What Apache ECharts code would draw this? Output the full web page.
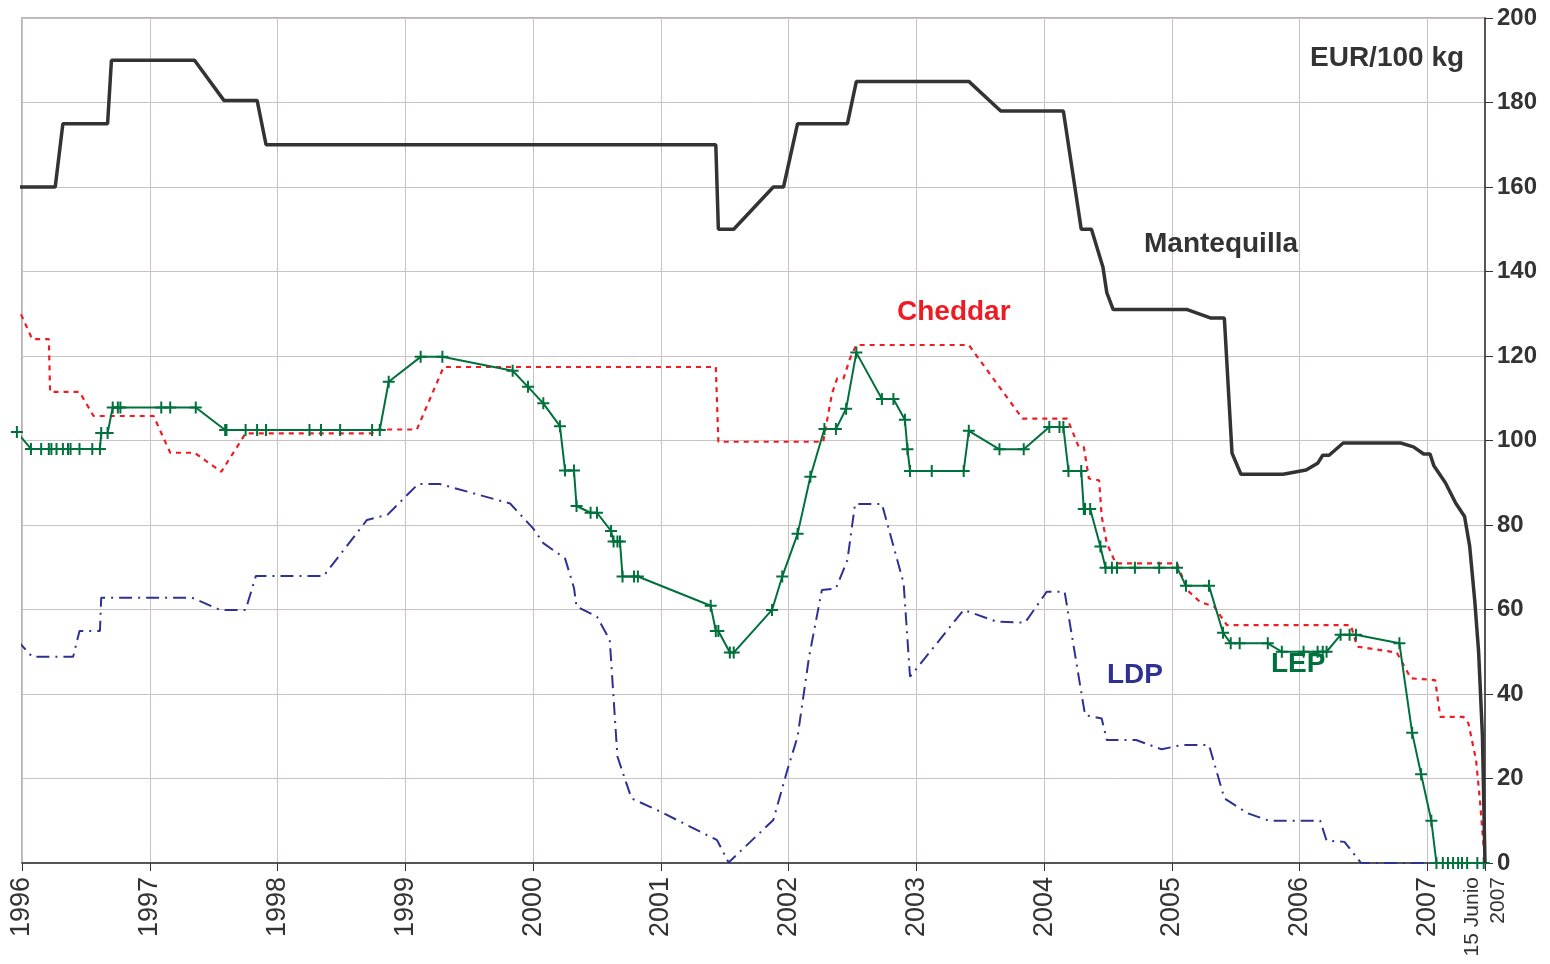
<!DOCTYPE html>
<html>
<head>
<meta charset="utf-8">
<script src="https://cdn.jsdelivr.net/npm/echarts@6/dist/echarts.min.js"></script>
<style>
  html, body { margin: 0; padding: 0; background: #fff; }
  #main { width: 1550px; height: 964px; }
</style>
</head>
<body>
<div id="main"></div>
<script>
// ticks of the time axis (decimal years), last one is 15 June 2007
var yearTicks = [1996, 1997, 1998, 1999, 2000, 2001, 2002, 2003, 2004, 2005, 2006, 2007, 2007.45];
var priceTicks = [0, 20, 40, 60, 80, 100, 120, 140, 160, 180, 200];

// Mantequilla (EUR/100 kg) [year, value]
var mantequilla = [
    [1995.96, 160], [1996.26, 160], [1996.32, 175], [1996.67, 175], [1996.70, 190], [1997.35, 190],
    [1997.58, 180.5], [1997.84, 180.5], [1997.91, 170], [2001.43, 170], [2001.45, 150], [2001.57, 150],
    [2001.88, 160], [2001.96, 160], [2002.07, 175], [2002.46, 175], [2002.53, 185], [2003.41, 185],
    [2003.66, 178], [2004.15, 178], [2004.20, 168], [2004.29, 150], [2004.37, 150], [2004.46, 141],
    [2004.49, 135], [2004.54, 131], [2005.12, 131], [2005.30, 129], [2005.41, 129], [2005.47, 97],
    [2005.54, 92], [2005.87, 92], [2006.05, 93], [2006.14, 94.6], [2006.18, 96.5], [2006.23, 96.5],
    [2006.34, 99.4], [2006.79, 99.4], [2006.89, 98.5], [2006.97, 96.8], [2007.02, 96.8], [2007.05, 94],
    [2007.14, 90], [2007.22, 85.2], [2007.29, 82], [2007.33, 75], [2007.37, 62], [2007.40, 50],
    [2007.43, 30], [2007.45, 0]
];

// Cheddar
var cheddar = [
    [1995.96, 132], [1996.08, 124], [1996.21, 124], [1996.22, 111.5], [1996.45, 111.5], [1996.56, 105.8],
    [1997.03, 105.8], [1997.16, 97.1], [1997.35, 97.1], [1997.56, 92.6], [1997.75, 101.7], [1998.74, 101.7],
    [1998.77, 102.6], [1999.09, 102.6], [1999.30, 117.4], [2001.43, 117.4], [2001.45, 99.7], [2002.27, 99.7],
    [2002.34, 111.2], [2002.38, 114.7], [2002.43, 114.7], [2002.48, 119.4], [2002.53, 122.6], [2003.41, 122.6],
    [2003.83, 105.2], [2004.18, 105.2], [2004.27, 98.5], [2004.31, 98.5], [2004.35, 91], [2004.43, 90.6],
    [2004.45, 82], [2004.49, 75.7], [2004.56, 70.9], [2005.04, 70.9], [2005.12, 64.6], [2005.22, 61.8],
    [2005.33, 60.7], [2005.43, 56.3], [2006.40, 56.3], [2006.45, 51.2], [2006.76, 49.8], [2006.87, 43.7],
    [2007.06, 43.3], [2007.10, 34.6], [2007.28, 34.6], [2007.32, 33.1], [2007.38, 24.4], [2007.41, 14.9],
    [2007.45, 0]
];

// LEP
var lep = [
    [1995.96, 102], [1996.07, 98], [1996.15, 98], [1996.21, 98], [1996.23, 98], [1996.27, 98],
    [1996.32, 98], [1996.36, 98], [1996.38, 98], [1996.45, 98], [1996.55, 98], [1996.61, 98],
    [1996.62, 101.8], [1996.67, 101.8], [1996.71, 107.8], [1996.75, 107.8], [1996.77, 107.8], [1997.09, 107.8],
    [1997.16, 107.8], [1997.36, 107.8], [1997.59, 102.5], [1997.60, 102.5], [1997.75, 102.5], [1997.84, 102.5],
    [1997.91, 102.5], [1998.25, 102.5], [1998.34, 102.5], [1998.49, 102.5], [1998.74, 102.5], [1998.80, 102.5],
    [1998.87, 113.9], [1999.12, 119.8], [1999.29, 119.8], [1999.84, 116.5], [1999.96, 112.7], [2000.08, 108.8],
    [2000.21, 103.4], [2000.25, 92.9], [2000.32, 92.9], [2000.34, 84.5], [2000.45, 82.9], [2000.50, 82.9],
    [2000.61, 78.6], [2000.63, 76.1], [2000.66, 76.1], [2000.68, 76.1], [2000.70, 67.8], [2000.79, 67.8],
    [2000.82, 67.8], [2001.39, 60.9], [2001.43, 54.9], [2001.45, 54.9], [2001.54, 49.8], [2001.57, 49.8],
    [2001.87, 59.9], [2001.95, 67.8], [2002.07, 77.9], [2002.17, 91.4], [2002.28, 102.7], [2002.37, 102.7],
    [2002.45, 107.5], [2002.53, 120.8], [2002.73, 109.8], [2002.82, 109.8], [2002.91, 104.9], [2002.93, 97.9],
    [2002.95, 92.8], [2003.12, 92.8], [2003.37, 92.8], [2003.41, 102.3], [2003.65, 97.9], [2003.84, 97.9],
    [2004.04, 103.2], [2004.12, 103.2], [2004.15, 103.2], [2004.19, 92.8], [2004.29, 92.8], [2004.31, 83.8],
    [2004.32, 83.8], [2004.36, 83.8], [2004.44, 74.9], [2004.48, 69.9], [2004.53, 69.9], [2004.57, 69.9],
    [2004.71, 69.9], [2004.90, 69.9], [2005.04, 69.9], [2005.11, 65.6], [2005.29, 65.6], [2005.40, 54.5],
    [2005.46, 52], [2005.53, 52], [2005.75, 52], [2005.86, 50], [2006.03, 50], [2006.14, 50],
    [2006.18, 50], [2006.21, 50], [2006.32, 54], [2006.39, 54], [2006.44, 54], [2006.78, 52],
    [2006.88, 30.8], [2006.95, 21], [2007.03, 10], [2007.07, 0], [2007.12, 0], [2007.16, 0],
    [2007.20, 0], [2007.24, 0], [2007.27, 0], [2007.31, 0], [2007.39, 0], [2007.44, 0]
];

// LDP
var ldp = [
    [1995.96, 52.8], [1996.08, 48.8], [1996.40, 48.8], [1996.45, 54.9], [1996.61, 54.9], [1996.62, 62.8],
    [1997.33, 62.8], [1997.55, 59.9], [1997.75, 59.9], [1997.83, 67.9], [1998.36, 67.9], [1998.70, 81.2],
    [1998.86, 82.4], [1999.10, 89.7], [1999.27, 89.7], [1999.82, 85.1], [2000.00, 79.2], [2000.08, 75.7],
    [2000.25, 72.1], [2000.32, 65.1], [2000.34, 60.7], [2000.50, 58.3], [2000.60, 52.8], [2000.66, 25.2],
    [2000.77, 15.3], [2001.00, 12.1], [2001.44, 5.4], [2001.53, 0.1], [2001.88, 10.2], [2001.99, 22],
    [2002.07, 29.9], [2002.16, 48.8], [2002.26, 64.6], [2002.37, 65], [2002.46, 71.7], [2002.52, 85],
    [2002.73, 85], [2002.90, 66.2], [2002.95, 44.1], [2003.37, 59.9], [2003.63, 57.1], [2003.85, 56.9],
    [2004.02, 64.2], [2004.16, 64.2], [2004.32, 35], [2004.45, 34.2], [2004.49, 29.1], [2004.72, 29.1],
    [2004.92, 26.9], [2005.07, 27.9], [2005.29, 27.9], [2005.41, 15.3], [2005.59, 11.8], [2005.76, 10],
    [2006.16, 10], [2006.21, 5.3], [2006.35, 5], [2006.48, 0], [2007.01, 0]
];

var chart = echarts.init(document.getElementById('main'));
var font = '"Liberation Sans", Arial, sans-serif';
var plusSymbol = 'path://M5,0h2v12h-2z M0,5h12v2h-12z';

var option = {
    animation: false,
    backgroundColor: '#ffffff',
    grid: {
        left: 22,
        right: 65,
        top: 18,
        bottom: 101,
        show: true,
        borderColor: '#a39b9b',
        borderWidth: 1.5,
        outerBoundsMode: 'none'
    },
    xAxis: {
        type: 'value',
        min: 1996,
        max: 2007.45,
        interval: 1,
        axisLine: { show: true, onZero: false, lineStyle: { color: '#333', width: 1.5 } },
        axisTick: { show: true, inside: false, length: 8, lineStyle: { color: '#333' } },
        splitLine: { show: true, lineStyle: { color: '#cac2c2', width: 1 } },
        axisLabel: {
            customValues: yearTicks,
            rotate: 90,
            margin: 14,
            fontFamily: font,
            fontSize: 27,
            color: '#333',
            formatter: function (v) {
                if (v > 2007.2) return '{s|15 Junio}\n{s|2007}';
                return String(Math.round(v));
            },
            rich: {
                s: { fontFamily: font, fontSize: 21, color: '#333', lineHeight: 26 }
            }
        }
    },
    yAxis: {
        type: 'value',
        position: 'right',
        min: 0,
        max: 200,
        interval: 20,
        axisLine: { show: true, lineStyle: { color: '#333', width: 1.5 } },
        axisTick: { show: true, inside: false, length: 8, lineStyle: { color: '#333' } },
        splitLine: { show: true, lineStyle: { color: '#cac2c2', width: 1 } },
        axisLabel: {
            margin: 12,
            fontFamily: font,
            fontSize: 24,
            fontWeight: 'bold',
            color: '#333',
            formatter: function (v) { return priceTicks.indexOf(v) >= 0 ? String(v) : ''; }
        }
    },
    series: [
        {
            name: 'LDP',
            type: 'line',
            data: ldp,
            showSymbol: false,
            clip: false,
            z: 2,
            lineStyle: { color: '#2e3192', width: 2, type: [13, 6, 2, 6] }
        },
        {
            name: 'Cheddar',
            type: 'line',
            data: cheddar,
            showSymbol: false,
            clip: false,
            z: 3,
            lineStyle: { color: '#ee1c25', width: 2.2, type: [5, 5] }
        },
        {
            name: 'LEP',
            type: 'line',
            data: lep,
            showSymbol: true,
            symbol: plusSymbol,
            symbolSize: 12,
            clip: false,
            z: 4,
            itemStyle: { color: '#00703c' },
            lineStyle: { color: '#00703c', width: 2 }
        },
        {
            name: 'Mantequilla',
            type: 'line',
            data: mantequilla,
            showSymbol: false,
            clip: false,
            z: 5,
            lineStyle: { color: '#333336', width: 3.5 }
        }
    ],
    graphic: [
        { type: 'text', left: 1310, top: 44, z: 100, style: { text: 'EUR/100 kg', font: 'bold 28px ' + font, fill: '#333' } },
        { type: 'text', left: 1144, top: 230, z: 100, style: { text: 'Mantequilla', font: 'bold 28px ' + font, fill: '#333' } },
        { type: 'text', left: 897, top: 298, z: 100, style: { text: 'Cheddar', font: 'bold 28px ' + font, fill: '#ed1c24' } },
        { type: 'text', left: 1107, top: 661, z: 100, style: { text: 'LDP', font: 'bold 28px ' + font, fill: '#2e3192' } },
        { type: 'text', left: 1271, top: 650, z: 100, style: { text: 'LEP', font: 'bold 28px ' + font, fill: '#00703c' } }
    ]
};
chart.setOption(option);
</script>
</body>
</html>
